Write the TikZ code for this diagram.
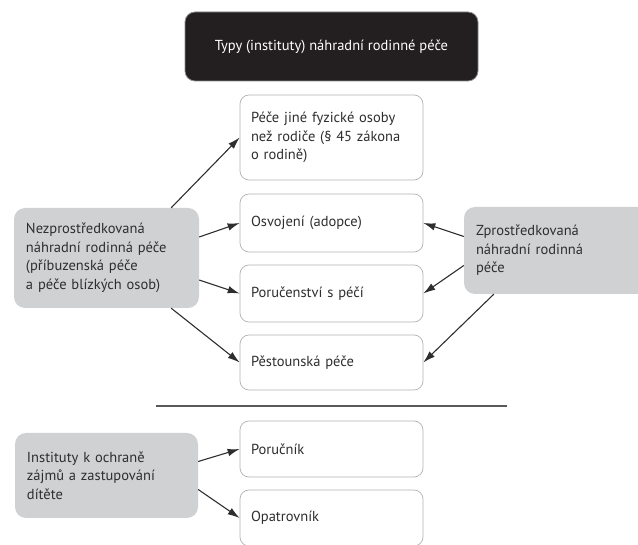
\documentclass[tikz,border=0pt]{standalone}
\usepackage{fontspec}
\setmainfont{PT Sans}
\usepackage{tikz}
\usetikzlibrary{arrows.meta, positioning, calc}
\definecolor{boxgray}{HTML}{D0D1D3}
\definecolor{darkbox}{HTML}{231F20}
\definecolor{textgray}{HTML}{2E2E2E}
\definecolor{linegray}{HTML}{2E2E2E}

\begin{document}
\begin{tikzpicture}[x=1pt,y=-1pt,
		font=\fontsize{14.5}{18.5}\selectfont,
		whitebox/.style={draw=black!30, line width=0.7pt, rounded corners=9pt, fill=white, text=textgray,
			align=left, inner xsep=11pt, text width=161pt, minimum height=#1},
		graybox/.style={fill=boxgray, rounded corners=11pt, text=textgray, align=left,
			inner xsep=12pt, text width=161pt, minimum height=#1},
		conn/.style={-{Latex[length=12pt,width=7.5pt]}, draw=linegray, line width=1.1pt}]
		\useasboundingbox (0,0) rectangle (638,545);
		
		%title
		\node[fill=darkbox, draw=black!45, line width=0.8pt, rounded corners=10pt, text=white,
			minimum width=293pt, minimum height=69pt] (typy) at (331.5,46.5) {Typy (instituty) náhradní rodinné péče};
		
		%middle column
		\node[whitebox=85pt] (jine) at (331.5,137.5) {Péče jiné fyzické osoby\\ než rodiče (§ 45 zákona\\ o rodině)};
		\node[whitebox=58pt] (osvojeni) at (331.5,223) {Osvojení (adopce)};
		\node[whitebox=57pt] (porucenstvi) at (331.5,293.5) {Poručenství s péčí};
		\node[whitebox=55pt] (pestounska) at (331.5,362.5) {Pěstounská péče};
		\node[whitebox=56pt] (porucnik) at (331.5,449) {Poručník};
		\node[whitebox=56pt] (opatrovnik) at (331.5,518) {Opatrovník};
		
		%side boxes
		\node[graybox=100pt] (nezpr) at (106.5,258) {Nezprostředkovaná\\ náhradní rodinná péče\\ (příbuzenská péče\\ a péče blízkých osob)};
		\node[graybox=87pt, text width=162pt] (zpr) at (557,250.5) {Zprostředkovaná\\ náhradní rodinná\\ péče};
		\node[graybox=85pt, text width=159pt] (instituty) at (106.5,475.5) {Instituty k ochraně\\ zájmů a zastupování\\ dítěte};
		
		%separator
		\draw[draw=black!65, line width=1.6pt] (156,406) -- (507,406);
		
		%arrows left
		\draw[conn] ([xshift=-28pt]nezpr.north east) -- (jine.west);
		\draw[conn] ([yshift=21pt]nezpr.east) -- (osvojeni.west);
		\draw[conn] ([yshift=-22pt]nezpr.east) -- (porucenstvi.west);
		\draw[conn] ([xshift=-28pt]nezpr.south east) -- (pestounska.west);
		
		%arrows right
		\draw[conn] ([yshift=14pt]zpr.west) -- (osvojeni.east);
		\draw[conn] ([yshift=-15pt]zpr.west) -- (porucenstvi.east);
		\draw[conn] ([xshift=30pt]zpr.south west) -- (pestounska.east);
		
		%arrows bottom
		\draw[conn] ([yshift=14pt]instituty.east) -- (porucnik.west);
		\draw[conn] ([yshift=-14pt]instituty.east) -- (opatrovnik.west);
\end{tikzpicture}
\end{document}
